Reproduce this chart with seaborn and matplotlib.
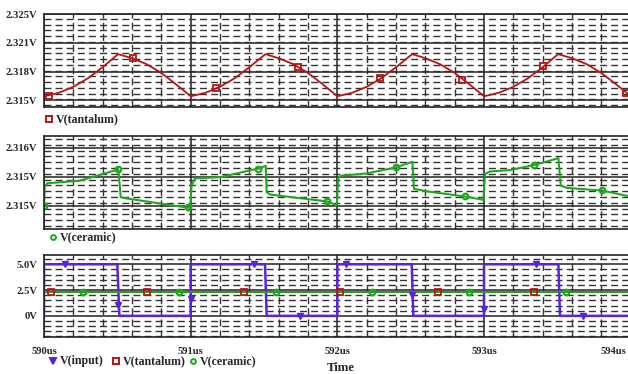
import numpy as np
import pandas as pd
import matplotlib
matplotlib.use('Agg')
import matplotlib.pyplot as plt
from matplotlib.ticker import FixedLocator, MultipleLocator
from matplotlib.transforms import ScaledTranslation
import seaborn as sns

# ─────────────────────────────────────────────
# Datos leídos de la traza (tiempo en us, tensión en V)
# ─────────────────────────────────────────────
t_tant = [590.0, 590.1, 590.2, 590.3, 590.4, 590.505, 590.6, 590.7, 590.8, 590.9,
          591.0, 591.1, 591.2, 591.3, 591.4, 591.51, 591.6, 591.7, 591.8, 591.9,
          592.0, 592.1, 592.2, 592.3, 592.4, 592.51, 592.6, 592.7, 592.8, 592.9,
          593.0, 593.1, 593.2, 593.3, 593.4, 593.505, 593.6, 593.7, 593.8, 593.9,
          594.0]
v_tant = [2.31547, 2.31587, 2.31657, 2.31756, 2.31884, 2.32035, 2.31988, 2.31919, 2.31817, 2.31686,
          2.31547, 2.31587, 2.31657, 2.31756, 2.31884, 2.32035, 2.31988, 2.31919, 2.31817, 2.31686,
          2.31547, 2.31587, 2.31657, 2.31756, 2.31884, 2.32035, 2.31988, 2.31919, 2.31817, 2.31686,
          2.31547, 2.31587, 2.31657, 2.31756, 2.31884, 2.32035, 2.31988, 2.31919, 2.31817, 2.31686,
          2.31550]
t_tant_mk = [590.034, 590.605, 591.173, 591.730, 592.291, 592.848, 593.402, 593.966]
v_tant_mk = [2.31555, 2.31985, 2.31640, 2.31887, 2.31759, 2.31733, 2.31895, 2.31590]

t_cer = [590.000, 590.005, 590.022, 590.245, 590.507, 590.523, 590.552, 590.984, 590.997,
         591.006, 591.030, 591.200, 591.461, 591.512, 591.518, 591.541, 591.932, 591.996,
         592.007, 592.030, 592.200, 592.398, 592.511, 592.523, 592.609, 592.870, 592.995,
         593.007, 593.041, 593.177, 593.343, 593.507, 593.523, 593.564, 593.807, 594.000]
v_cer = [2.314990, 2.315263, 2.315309, 2.315345, 2.315500, 2.315117, 2.315104, 2.314973, 2.314970,
         2.315277, 2.315377, 2.315393, 2.315513, 2.315550, 2.315186, 2.315154, 2.315059, 2.315004,
         2.315390, 2.315414, 2.315445, 2.315527, 2.315605, 2.315232, 2.315199, 2.315127, 2.315082,
         2.315437, 2.315472, 2.315491, 2.315560, 2.315655, 2.315277, 2.315246, 2.315209, 2.315125]
t_cer_mk = [590.000, 590.507, 590.984, 591.461, 591.932, 592.398, 592.870, 593.343, 593.807]
v_cer_mk = [2.31499, 2.31550, 2.31498, 2.31551, 2.31506, 2.31553, 2.31513, 2.31556, 2.31521]

t_in = [590.0, 590.0, 590.500, 590.514, 591.0, 591.0, 591.507, 591.518,
        592.0, 592.0, 592.507, 592.518, 593.0, 593.0, 593.507, 593.518, 594.0]
v_in = [0.0, 5.0, 5.0, 0.0, 0.0, 5.0, 5.0, 0.0,
        0.0, 5.0, 5.0, 0.0, 0.0, 5.0, 5.0, 0.0, 0.0]
t_in_mk = [590.143, 590.507, 591.0, 591.432, 591.745, 592.059, 592.511, 593.0, 593.352, 593.673]
v_in_mk = [5.0, 1.02, 1.6, 5.0, 0.0, 5.0, 2.04, 0.63, 5.0, 0.0]

# marcadores de las trazas en el panel inferior
t_tant_mk3 = [590.046, 590.704, 591.366, 592.018, 592.684, 593.341]
v_tant_mk3 = [2.3156, 2.3192, 2.3182, 2.3155, 2.3193, 2.3180]
t_cer_mk3 = [590.264, 590.922, 591.582, 592.238, 592.898, 593.557]
v_cer_mk3 = [2.3153, 2.3150, 2.3154, 2.3154, 2.3151, 2.3152]

# ticks
x_ticks = [590, 591, 592, 593, 594]
x_labels = ['590us', '591us', '592us', '593us', '594us']
y1_ticks = [2.315, 2.318333, 2.321667, 2.325]
y1_labels = ['2.315V', '2.318V', '2.321V', '2.325V']
y2_ticks = [2.3150, 2.3154, 2.3158]
y2_labels = ['2.315V', '2.315V', '2.316V']
y3_ticks = [0, 2.5, 5]
y3_labels = ['0V', '2.5V', '5.0V']

# ─────────────────────────────────────────────
# Estilo
# ─────────────────────────────────────────────
sns.set_style('white')
plt.rcParams['font.family'] = ['Liberation Serif', 'DejaVu Serif']
plt.rcParams['font.weight'] = 'bold'

c_tant = '#b81414'
c_cer = '#1fa81f'
c_in = '#5a22e0'

W, H = 628, 374
fig = plt.figure(figsize=(W / 100, H / 100), dpi=100)


def px_axes(top, bottom, left=44, right=630.7):
    return fig.add_axes([left / W, 1 - bottom / H, (right - left) / W, (bottom - top) / H])


def style_axes(ax, yt, yl, ylim, yminor, show_x=False):
    ax.set_xlim(590, 594)
    ax.set_ylim(*ylim)
    ax.xaxis.set_major_locator(FixedLocator(x_ticks))
    ax.xaxis.set_minor_locator(MultipleLocator(0.2))
    ax.yaxis.set_major_locator(FixedLocator(yt))
    ax.yaxis.set_minor_locator(MultipleLocator(yminor))
    ax.set_yticklabels(yl)
    ax.grid(which='major', color='#222222', lw=1.1, ls='-')
    ax.grid(which='minor', color='#333333', lw=1.0, ls=(0, (5, 3)))
    ax.set_axisbelow(True)
    for s in ax.spines.values():
        s.set_color('#222222')
        s.set_linewidth(1.2)
    ax.tick_params(axis='y', which='major', direction='out', length=4, width=1,
                   pad=1, labelsize=7.6, color='#222222')
    ax.tick_params(which='minor', length=0)
    if show_x:
        ax.set_xticklabels(x_labels)
        ax.tick_params(axis='x', which='major', direction='out', length=3, width=1.2,
                       pad=4, labelsize=7.6, color='#222222')
        # la última etiqueta queda pegada al borde derecho
        last = ax.get_xticklabels()[-1]
        last.set_horizontalalignment('right')
        last.set_transform(last.get_transform() + ScaledTranslation(-4 / 100, 0, fig.dpi_scale_trans))
    else:
        ax.tick_params(axis='x', which='major', length=0, labelbottom=False)
    ax.set_xlabel('')
    ax.set_ylabel('')


# Panel 1: V(tantalum)
ax1 = px_axes(14, 107)
sns.lineplot(x=t_tant, y=v_tant, estimator=None, sort=False, color=c_tant, lw=1.3, ax=ax1)
ax1.plot(t_tant_mk, v_tant_mk, ls='none', marker='s', ms=4.5, mfc='none', mec=c_tant, mew=1.3)
style_axes(ax1, y1_ticks, y1_labels, (2.31423, 2.325), (y1_ticks[1] - y1_ticks[0]) / 5)

# Panel 2: V(ceramic)
ax2 = px_axes(136, 229)
sns.lineplot(x=t_cer, y=v_cer, estimator=None, sort=False, color=c_cer, lw=1.5, ax=ax2)
ax2.plot(t_cer_mk, v_cer_mk, ls='none', marker='o', ms=4, mfc='none', mec=c_cer, mew=1.6)
style_axes(ax2, y2_ticks, y2_labels, (2.31468, 2.31596), 0.00008)

# Panel 3: las tres trazas
ax3 = px_axes(255, 337)
sns.lineplot(x=t_in, y=v_in, estimator=None, sort=False, color=c_in, lw=1.8, ax=ax3)
sns.lineplot(x=t_tant, y=v_tant, estimator=None, sort=False, color=c_tant, lw=1.3, ax=ax3)
sns.lineplot(x=t_cer, y=v_cer, estimator=None, sort=False, color=c_cer, lw=1.3, ax=ax3)
ax3.plot(t_in_mk, v_in_mk, ls='none', marker='v', ms=5, color=c_in)
ax3.plot(t_tant_mk3, v_tant_mk3, ls='none', marker='s', ms=4.5, mfc='none', mec=c_tant, mew=1.3)
ax3.plot(t_cer_mk3, v_cer_mk3, ls='none', marker='o', ms=4, mfc='none', mec=c_cer, mew=1.6)
style_axes(ax3, y3_ticks, y3_labels, (-2.05, 5.9), 0.5, show_x=True)


# Leyendas estilo PSpice (coordenadas de figura en píxeles)
def legend_item(xm, y, marker, color, text, filled=False):
    fig.lines.append(plt.Line2D([xm / W], [1 - y / H], transform=fig.transFigure,
                                ls='none', marker=marker, ms=4.5 if marker != 'o' else 3.5,
                                mfc=color if filled else 'none', mec=color, mew=1.4))
    fig.text((xm + 7) / W, 1 - y / H, text, fontsize=8.6, fontweight='bold',
             va='center', ha='left')


legend_item(49, 119, 's', c_tant, 'V(tantalum)')
legend_item(53, 237, 'o', c_cer, 'V(ceramic)')
legend_item(53, 361, 'v', c_in, 'V(input)', filled=True)
legend_item(116, 361, 's', c_tant, 'V(tantalum)')
legend_item(193, 361, 'o', c_cer, 'V(ceramic)')
fig.text(341 / W, 1 - 368 / H, 'Time', fontsize=9.2, fontweight='bold', ha='center', va='center')

fig.savefig('out.png', dpi=100)
